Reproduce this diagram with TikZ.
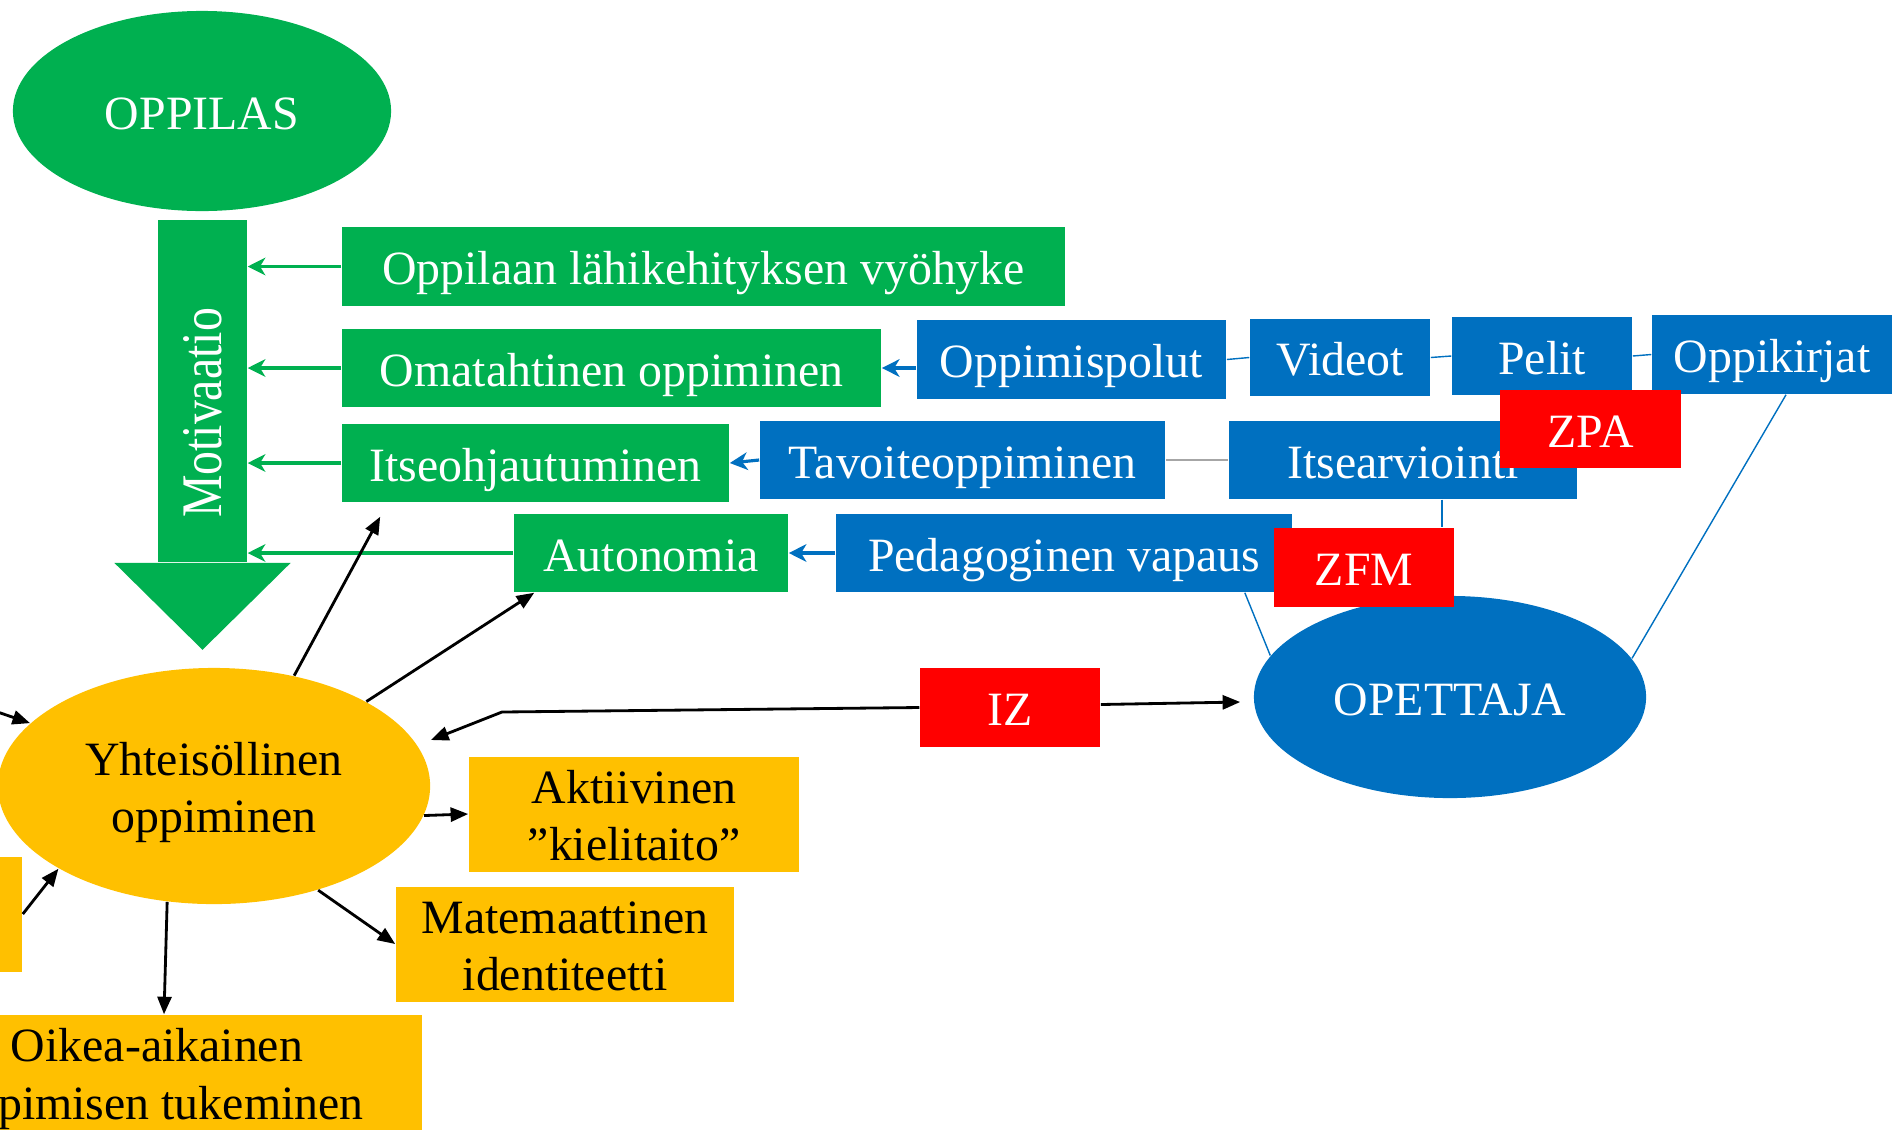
\documentclass[tikz,border=0pt]{standalone}
\usepackage{fontspec}
\setmainfont{Liberation Serif}
\usetikzlibrary{arrows.meta, positioning, calc, shapes.geometric}
\definecolor{cgreen}{HTML}{00B050}
\definecolor{cblue}{HTML}{0070C0}
\definecolor{cred}{HTML}{FF0000}
\definecolor{cyellow}{HTML}{FFC000}
\definecolor{cgray}{HTML}{A6A6A6}

\begin{document}
\begin{tikzpicture}[x=0.01cm, y=-0.01cm,
  every node/.style={font=\fontsize{13.6}{16.4}\selectfont, inner sep=0pt, align=center,
    text height=13.3pt, text depth=3pt},
  twoline/.style={text height=29.7pt, text depth=3pt},
  gbox/.style={fill=cgreen, text=white, minimum height=0.78cm},
  bbox/.style={fill=cblue, text=white, minimum height=0.78cm},
  rbox/.style={fill=cred, text=white, minimum width=1.8cm, minimum height=0.79cm},
  ybox/.style={fill=cyellow, text=black, minimum height=1.14cm, twoline},
  garrow/.style={cgreen, line width=0.9pt, -{Stealth[length=5pt, width=5pt, inset=1.5pt]}},
  barrow/.style={cblue, line width=0.9pt, -{Stealth[length=5pt, width=5pt, inset=1.5pt]}},
  karrow/.style={black, line width=0.8pt, -{Triangle[length=5pt, width=4pt]}},
  bline/.style={cblue, line width=0.4pt},
  gline/.style={cgray, line width=0.5pt}]
  \useasboundingbox (0,0) rectangle (1895,1130);
  \clip (0,0) rectangle (1895,1130);

  % oppilas and the motivation arrow
  \node[ellipse, fill=cgreen, text=white, minimum width=3.78cm, minimum height=2cm] (oppilas) at (202,111) {OPPILAS};
  \node[fill=cgreen, minimum width=0.89cm, minimum height=3.42cm] (motiv) at (202.5,391) {};
  \fill[cgreen] (motiv.south west) -- ++(-43,0) -- ($(motiv.south)+(0,87)$) -- ($(motiv.south east)+(43,0)$) -- cycle;
  \node[rotate=90, text=white, text height=, text depth=] (motivtxt) at (203,413) {\scalebox{1}[1.2]{Motivaatio}};

  \node[gbox, minimum width=7.23cm, minimum height=0.79cm] (lahi) at (703.5,266.5) {Oppilaan lähikehityksen vyöhyke};
  \node[gbox, minimum width=5.39cm] (omat) at (611.5,368) {Omatahtinen oppiminen};
  \node[gbox, minimum width=3.87cm] (itseo) at (535.5,463) {Itseohjautuminen};
  \node[gbox, minimum width=2.74cm] (auton) at (651,553) {Autonomia};

  \node[bbox, minimum width=3.09cm, minimum height=0.79cm] (polut) at (1071.5,359.5) {Oppimispolut};
  \node[bbox, minimum width=1.8cm, minimum height=0.77cm] (videot) at (1340,357.5) {Videot};
  \node[bbox, minimum width=1.8cm] (pelit) at (1542,356) {Pelit};
  \node[bbox, minimum width=2.4cm, minimum height=0.79cm] (kirjat) at (1772,354.5) {Oppikirjat};
  \node[bbox, minimum width=4.05cm] (tavoite) at (962.5,460) {Tavoiteoppiminen};
  \node[bbox, minimum width=3.48cm] (itsearv) at (1403,460) {Itsearviointi};
  \node[bbox, minimum width=4.56cm] (vapaus) at (1064,553) {Pedagoginen vapaus};

  \node[ellipse, fill=cblue, text=white, minimum width=3.92cm, minimum height=2.02cm] (opet) at (1450,697) {OPETTAJA};
  \node[ellipse, fill=cyellow, minimum width=4.32cm, minimum height=2.36cm, twoline] (yht) at (214,786) {Yhteisöllinen\\oppiminen};

  \node[ybox, minimum width=3.3cm, minimum height=1.12cm] (aktiiv) at (634,814) {Aktiivinen\\”kielitaito”};
  \node[ybox, minimum width=3.38cm] (matem) at (565,944) {Matemaattinen\\identiteetti};
  \node[ybox, minimum width=5.3cm, minimum height=1.15cm] (oikea) at (157,1072.5) {Oikea-aikainen\\oppimisen tukeminen};
  \node[ybox, minimum width=3.3cm, minimum height=1.12cm] (vasen) at (-143,914) {};

  \node[rbox, minimum width=1.81cm, minimum height=0.78cm] (zpa) at (1590.5,429) {ZPA};
  \node[rbox] (zfm) at (1364,567.5) {ZFM};
  \node[rbox] (iz) at (1010,707.5) {IZ};

  % connectors
  \foreach \b in {lahi, omat, itseo, auton}
    \draw[garrow] (\b.west) -- (\b.west -| motiv.east);
  \draw[barrow] (polut.west |- omat.east) -- (omat.east);
  \draw[barrow] (tavoite.west) -- (itseo.east);
  \draw[barrow] (vapaus.west) -- (auton.east);

  \draw[bline] (polut.east) -- (videot.west);
  \draw[bline] (videot.east) -- (pelit.west);
  \draw[bline] (pelit.east) -- (kirjat.west);
  \draw[gline] (tavoite.east) -- (itsearv.west);
  \draw[bline] ([xshift=0.39cm]itsearv.south) coordinate (arvtop) -- (arvtop |- zfm.north);
  \draw[bline] ([xshift=-0.48cm]vapaus.south east) -- (opet.167);
  \draw[bline] ([xshift=0.14cm]kirjat.south) -- (opet.12);

  \coordinate (vasenreuna) at (-20,706);
  \coordinate (izknee) at (502,712);
  \draw[karrow] (vasenreuna) -- (yht);
  \draw[karrow] (vasen.east) -- (yht.208);
  \draw[karrow] (yht.54) -- ($(itseo.south west)+(39,14)$);
  \draw[karrow] (yht.29) -- ($(auton.south west)+(21,0)$);
  \draw[karrow] (iz.west) -- (izknee) -- ($(yht)+(217,-46)$);
  \draw[karrow] ([yshift=0.03cm]iz.east) -- ($(opet.west)+(-13,5)$);
  \draw[karrow] (yht.-8) -- (aktiiv.west);
  \draw[karrow] (yht.-45) -- (matem.west);
  \draw[karrow] (yht.248) -- ([xshift=0.07cm]oikea.north);
\end{tikzpicture}
\end{document}
